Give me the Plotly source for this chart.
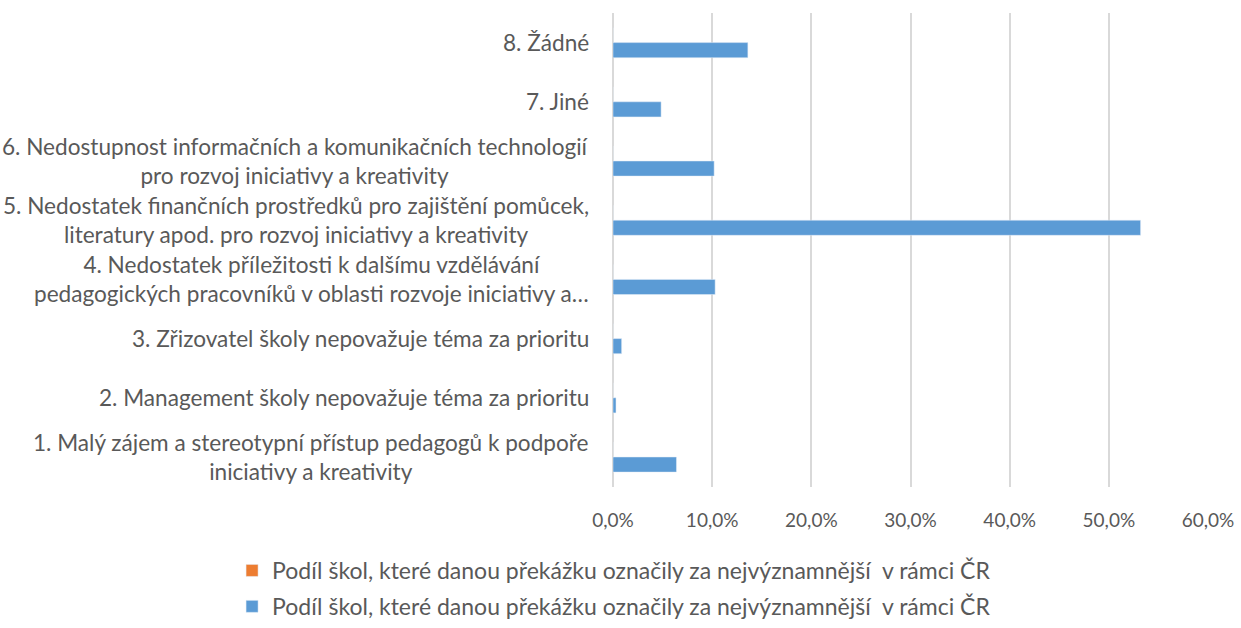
import plotly.graph_objects as go

categories = [
    "1. Malý zájem a stereotypní přístup pedagogů k podpoře<br>iniciativy a kreativity",
    "2. Management školy nepovažuje téma za prioritu",
    "3. Zřizovatel školy nepovažuje téma za prioritu",
    "4. Nedostatek příležitosti k dalšímu vzdělávání<br>pedagogických pracovníků v oblasti rozvoje iniciativy a…",
    "5. Nedostatek finančních prostředků pro zajištění pomůcek,<br>literatury apod. pro rozvoj iniciativy a kreativity",
    "6. Nedostupnost informačních a komunikačních technologií<br>pro rozvoj iniciativy a kreativity",
    "7. Jiné",
    "8. Žádné",
]
series_name = "Podíl škol, které danou překážku označily za nejvýznamnější  v rámci ČR"
values_blue = [0.064, 0.003, 0.0087, 0.103, 0.532, 0.102, 0.0485, 0.136]
values_orange = [0, 0, 0, 0, 0, 0, 0, 0]
tick_vals = [0, 0.1, 0.2, 0.3, 0.4, 0.5, 0.6]
tick_text = ["0,0%", "10,0%", "20,0%", "30,0%", "40,0%", "50,0%", "60,0%"]

FONT = "Lato"
FS = 22.6
TXT = "#595959"

fig = go.Figure()
fig.add_trace(go.Bar(
    y=categories, x=values_blue, orientation="h", name=series_name,
    marker=dict(color="#5B9BD5"), legendrank=2, legendgroup="b",
))
fig.add_trace(go.Bar(
    y=categories, x=values_orange, orientation="h", name=series_name,
    marker=dict(color="#ED7D31"), legendrank=1, legendgroup="a",
))

for c in categories:
    fig.add_annotation(
        x=0, xref="paper", y=c, yref="y", text=c, showarrow=False,
        xanchor="right", yanchor="middle", align="center", xshift=-22,
        font=dict(family=FONT, size=FS, color=TXT),
    )

fig.update_layout(
    width=1241, height=628,
    margin=dict(l=613, r=33, t=13, b=141, autoexpand=False),
    paper_bgcolor="white", plot_bgcolor="white",
    barmode="group", bargap=0.49, bargroupgap=0,
    font=dict(family=FONT, size=FS, color=TXT),
    xaxis=dict(
        range=[0, 0.6], tickvals=tick_vals, ticktext=tick_text,
        showgrid=True, gridcolor="#D9D9D9", gridwidth=1.5,
        zeroline=True, zerolinecolor="#D9D9D9", zerolinewidth=2,
        showline=False, ticks="",
        ticklabelstandoff=20,
        tickfont=dict(family=FONT, size=19, color=TXT),
        automargin=False,
    ),
    yaxis=dict(showticklabels=False, showgrid=False, zeroline=False,
               showline=False, ticks="", automargin=False),
    legend=dict(
        orientation="v", x=0.187, xref="container", xanchor="left",
        y=0.0, yref="container", yanchor="bottom",
        traceorder="grouped", tracegroupgap=3,
        font=dict(family=FONT, size=23, color=TXT),
    ),
    showlegend=True,
)

fig.write_html("out.html", config={"displayModeBar": False},
               post_script="document.body.style.margin='0';")
